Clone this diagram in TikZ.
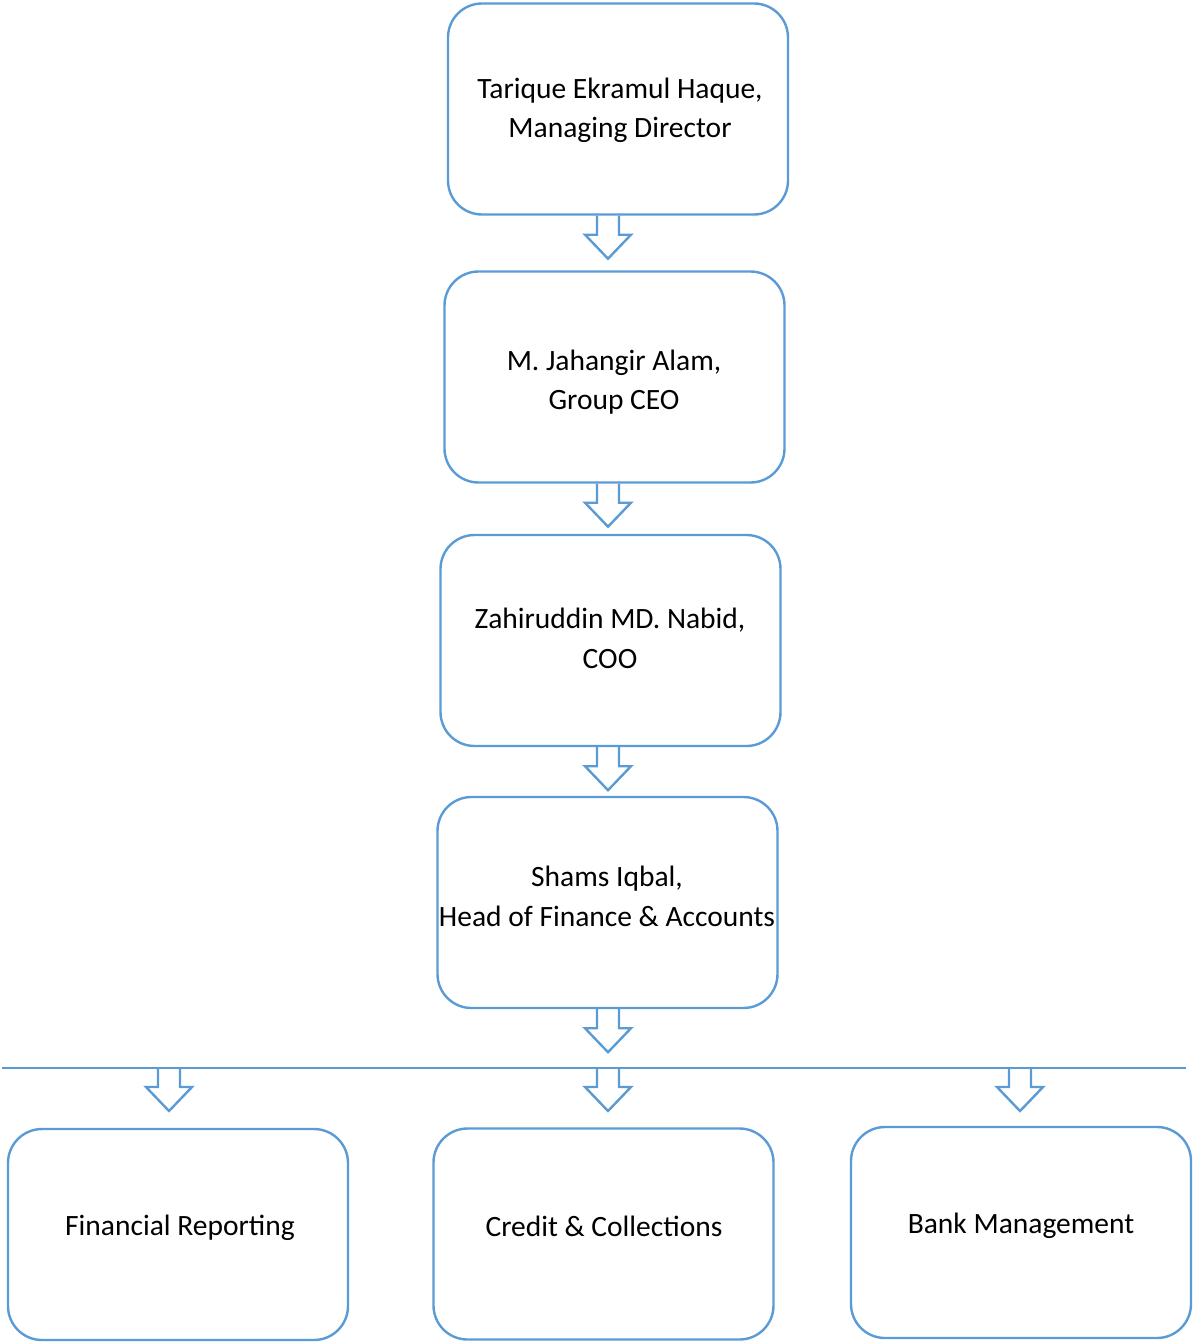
\documentclass[tikz,border=0pt]{standalone}
\usepackage{fontspec}
\setmainfont{Carlito}
\usetikzlibrary{calc}
\definecolor{wblue}{HTML}{5B9BD5}
\begin{document}
\begin{tikzpicture}[x=1pt,y=-1pt,
  box/.style={draw=wblue, line width=2.4pt, rounded corners=34pt, minimum width=340pt, minimum height=211pt, inner sep=0pt},
  txt/.style={align=center, inner sep=0pt, font=\fontsize{29.5}{39.5}\selectfont},
  barrow/.style={draw=wblue, line width=2.4pt, line join=miter}]
\useasboundingbox (0,0) rectangle (1192,1343);
\node[box] (md) at (618,109) {};
\node[box] (ceo) at (614.5,377) {};
\node[box] (coo) at (610.5,640.5) {};
\node[box] (hfa) at (607.5,902.5) {};
\node[box] (fr) at (178,1234.5) {};
\node[box] (cc) at (603.5,1234) {};
\node[box] (bm) at (1021,1232.5) {};
\node[txt] (mdt) at (620,110.5) {Tarique Ekramul Haque,\\Managing Director};
\node[txt] (ceot) at (614,382) {M. Jahangir Alam,\\Group CEO};
\node[txt] (coot) at (610,638.5) {Zahiruddin MD. Nabid,\\COO};
\node[txt] (hfat) at (607,896.5) {Shams Iqbal,\\Head of Finance \& Accounts};
\node[txt] (frt) at (180,1228) {Financial Reporting};
\node[txt] (cct) at (604,1226) {Credit \& Collections};
\node[txt] (bmt) at (1021,1226) {Bank Management};
\coordinate (lineL) at (2,1068);
\coordinate (lineR) at (1186,1068);
\draw[wblue, line width=2.4pt] (lineL) -- (lineR);
\newcommand{\barr}[2]{%
  \draw[barrow] ($(#1,0 |- #2)+(-11,0)$) -- ++(0,19) -- ++(-12,0) -- ++(23,24) -- ++(23,-24) -- ++(-12,0) -- ++(0,-19);}
\barr{608}{md.south}
\barr{608}{ceo.south}
\barr{608}{coo.south}
\barr{608}{hfa.south}
\barr{169}{lineL}
\barr{608}{lineL}
\barr{1020}{lineL}
\end{tikzpicture}
\end{document}
